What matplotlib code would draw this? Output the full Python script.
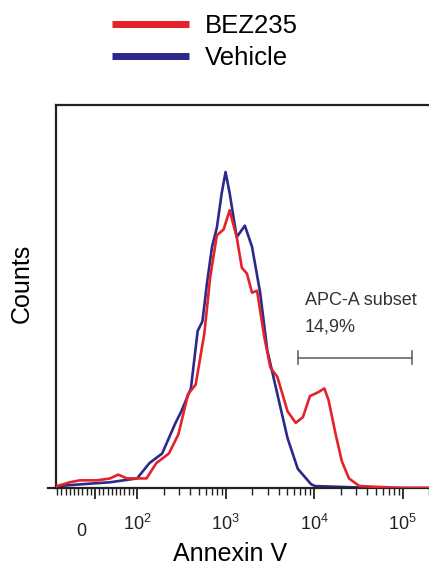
import matplotlib
matplotlib.use("Agg")
import matplotlib.pyplot as plt
import matplotlib.transforms as mtransforms

plt.rcParams['font.family'] = ['Liberation Sans', 'DejaVu Sans']

# Annexin V intensity (x) and counts (y)
vehicle_x = [-90, -29, 36, 100, 138, 192, 272, 316, 406, 484, 548, 621, 704, 798, 905,
             1000, 1112, 1337, 1652, 1990, 2460, 2960, 3850, 5020, 6550, 9250, 10270,
             50000, 260000]
vehicle_y = [1, 2, 3, 5, 13, 18, 34, 40, 52, 82, 87, 108, 126, 136, 154,
             165, 154, 131, 137, 126, 102, 72, 49, 26, 10, 2, 1,
             0, 0]

bez_x = [-90, -60, -36, 5, 36, 55, 76, 100, 128, 165, 229, 293, 377, 460, 577, 670,
         798, 951, 1112, 1337, 1528, 1742, 1990, 2270, 2735, 3205, 3850, 5020, 6210,
         7480, 8990, 11130, 13070, 14560, 17550, 20600, 24800, 32500, 100000, 260000]
bez_y = [1, 3, 4, 4, 5, 7, 5, 5, 5, 13, 18, 28, 49, 54, 81, 110,
         132, 135, 145, 131, 115, 112, 102, 103, 79, 63, 58, 40, 34,
         37, 48, 50, 52, 46, 28, 14, 5, 1, 0, 0]

tick_values = [0, 100, 1000, 10000, 100000]
tick_labels = ['0', r'$\mathregular{10^2}$', r'$\mathregular{10^3}$',
               r'$\mathregular{10^4}$', r'$\mathregular{10^5}$']

gate_lo, gate_hi, gate_y = 6590, 128000, 68
gate_name = 'APC-A subset'
gate_pct = '14,9%'

red = '#e4222a'
blue = '#2b2a8a'

fig = plt.figure(figsize=(4.29, 5.66), dpi=100)
ax = fig.add_axes([56 / 429, 78 / 566, 384 / 429, 383 / 566])

ax.plot(bez_x, bez_y, color=red, linewidth=1.9, label='BEZ235', zorder=3)
ax.plot(vehicle_x, vehicle_y, color=blue, linewidth=1.9, label='Vehicle', zorder=2)

ax.set_xscale('symlog', linthresh=100, linscale=0.4275)

# gate bar
ax.plot([gate_lo, gate_hi], [gate_y, gate_y], color='#666666', linewidth=1.2)
ax.plot([gate_lo, gate_lo], [gate_y - 3.5, gate_y + 3.5], color='#666666', linewidth=1.2)
ax.plot([gate_hi, gate_hi], [gate_y - 3.5, gate_y + 3.5], color='#666666', linewidth=1.2)
ax.text(7900, 98, gate_name, fontsize=13, color='#333333', va='center')
ax.text(7900, 84, gate_pct, fontsize=13, color='#333333', va='center')

# ticks
minor = list(range(-90, 100, 10))
for d in [100, 1000, 10000, 100000]:
    minor += [d * k for k in range(2, 10) if d * k < 260000]
ax.set_xticks(tick_values)
ax.set_xticklabels(tick_labels, fontsize=13)
ax.set_xticks(minor, minor=True)
ax.set_xlim(-92.8, 264900)
ax.set_ylim(0, 200)
ax.tick_params(axis='x', which='major', direction='out', length=8, width=1.3, pad=11, colors='#222222')
ax.tick_params(axis='x', which='minor', direction='out', length=5, width=1.0, colors='#222222')
ax.set_yticks([])

# the "0" label sits a little left and lower
lbl0 = ax.get_xticklabels()[0]
lbl0.set_transform(lbl0.get_transform() +
                   mtransforms.ScaledTranslation(-10 / 72, -6 / 72, fig.dpi_scale_trans))

for s in ['left', 'top', 'bottom']:
    ax.spines[s].set_color('#222222')
    ax.spines[s].set_linewidth(1.6)
ax.spines['right'].set_visible(False)
ax.plot([-0.022, 0], [0, 0], transform=ax.transAxes, color='#222222', linewidth=1.6, clip_on=False)

fig.text(22 / 429, 1 - 283 / 566, 'Counts', rotation=90, fontsize=18, ha='center', va='center')
fig.text(230 / 429, 1 - 554 / 566, 'Annexin V', fontsize=18, ha='center', va='center')

fig.legend(loc='upper left', bbox_to_anchor=(94 / 429, 1 + 4 / 566), frameon=False,
           fontsize=18.5, handlelength=3.0, handletextpad=0.6, labelspacing=0.3,
           borderpad=0.2)
for line in fig.legends[0].get_lines():
    line.set_linewidth(5)
    line.set_solid_capstyle('butt')

fig.savefig('out.png', dpi=100)
